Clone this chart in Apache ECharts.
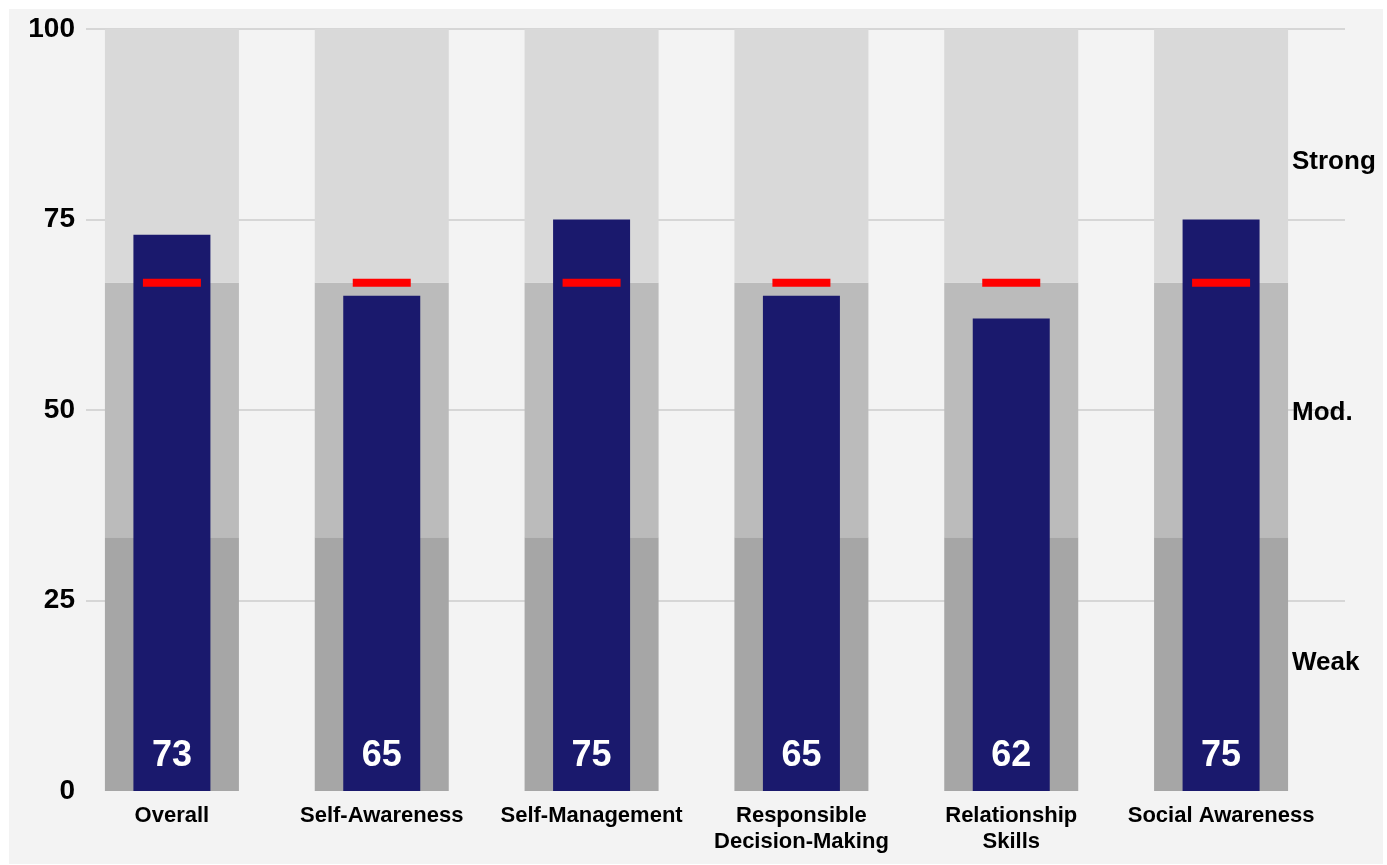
<!DOCTYPE html>
<html>
<head>
<meta charset="utf-8">
<script src="https://cdn.jsdelivr.net/npm/echarts@6/dist/echarts.min.js"></script>
<style>
  html, body { margin: 0; padding: 0; background: #ffffff; }
  #panel { position: absolute; left: 9px; top: 9px; width: 1374px; height: 855px; background: #f3f3f3; }
  #main { position: absolute; left: 0; top: 0; width: 1387px; height: 865px; }
</style>
</head>
<body>
<div id="panel"></div>
<div id="main"></div>
<script>
// data
var categories = ['Overall', 'Self-Awareness', 'Self-Management', 'Responsible\nDecision-Making', 'Relationship\nSkills', 'Social Awareness'];
var scores = [73, 65, 75, 65, 62, 75];
var targets = [66.7, 66.7, 66.7, 66.7, 66.7, 66.7];
var bandWeak = [33.3, 33.3, 33.3, 33.3, 33.3, 33.3];
var bandMod = [33.4, 33.4, 33.4, 33.4, 33.4, 33.4];
var bandStrong = [33.3, 33.3, 33.3, 33.3, 33.3, 33.3];
var bandNames = ['Weak', 'Mod.', 'Strong'];
var yTicks = [0, 25, 50, 75, 100];

var font = 'Liberation Sans, Arial, sans-serif';
var chart = echarts.init(document.getElementById('main'));

var option = {
  backgroundColor: 'transparent',
  animation: false,
  grid: [
    { left: 86, right: 42, top: 29, bottom: 74 },   // gridlines + y labels
    { left: 67, right: 61, top: 29, bottom: 74 },   // bars
    { left: 86, right: 103, top: 37, bottom: 77 }   // band names on the right
  ],
  xAxis: [
    { gridIndex: 0, type: 'value', min: 0, max: 1, show: false },
    { gridIndex: 1, type: 'category', data: categories,
      axisLine: { show: false }, axisTick: { show: false },
      axisLabel: { interval: 0, margin: 12, color: '#000', fontFamily: font, fontWeight: 'bold', fontSize: 22, lineHeight: 26 } },
    { gridIndex: 1, type: 'category', data: categories, show: false },
    { gridIndex: 2, type: 'value', min: 0, max: 1, show: false }
  ],
  yAxis: [
    { gridIndex: 0, type: 'value', min: 0, max: 100, interval: 25,
      axisLine: { show: false }, axisTick: { show: false },
      axisLabel: { margin: 11, color: '#000', fontFamily: font, fontWeight: 'bold', fontSize: 28,
        formatter: function (v) { return yTicks.indexOf(v) >= 0 ? String(v) : ''; } },
      splitLine: { show: true, showMinLine: false, lineStyle: { color: '#cccccc', width: 1.5 } } },
    { gridIndex: 1, type: 'value', min: 0, max: 100, show: false },
    { gridIndex: 2, type: 'category', data: bandNames, position: 'right',
      axisLine: { show: false }, axisTick: { show: false }, splitLine: { show: false },
      axisLabel: { margin: 8, color: '#000', fontFamily: font, fontWeight: 'bold', fontSize: 26 } }
  ],
  series: [
    { type: 'bar', name: 'weak', xAxisIndex: 2, yAxisIndex: 1, stack: 'band', data: bandWeak,
      barWidth: 134, itemStyle: { color: '#a6a6a6' }, silent: true },
    { type: 'bar', name: 'mod', xAxisIndex: 2, yAxisIndex: 1, stack: 'band', data: bandMod,
      barWidth: 134, itemStyle: { color: '#bbbbbb' }, silent: true },
    { type: 'bar', name: 'strong', xAxisIndex: 2, yAxisIndex: 1, stack: 'band', data: bandStrong,
      barWidth: 134, itemStyle: { color: '#d9d9d9' }, silent: true },
    { type: 'bar', name: 'score', xAxisIndex: 1, yAxisIndex: 1, data: scores,
      barWidth: 77, itemStyle: { color: '#1a196d' },
      label: { show: true, position: 'insideBottom', distance: 17, color: '#fff',
        fontFamily: font, fontWeight: 'bold', fontSize: 36 } },
    { type: 'scatter', name: 'target', xAxisIndex: 1, yAxisIndex: 1, data: targets,
      symbol: 'rect', symbolSize: [58, 8], itemStyle: { color: '#ff0000', opacity: 1 }, z: 5 },
    // dummy to keep grid 2 axes in use
    { type: 'scatter', xAxisIndex: 3, yAxisIndex: 2, data: [], symbolSize: 0 }
  ]
};
chart.setOption(option);
</script>
</body>
</html>
